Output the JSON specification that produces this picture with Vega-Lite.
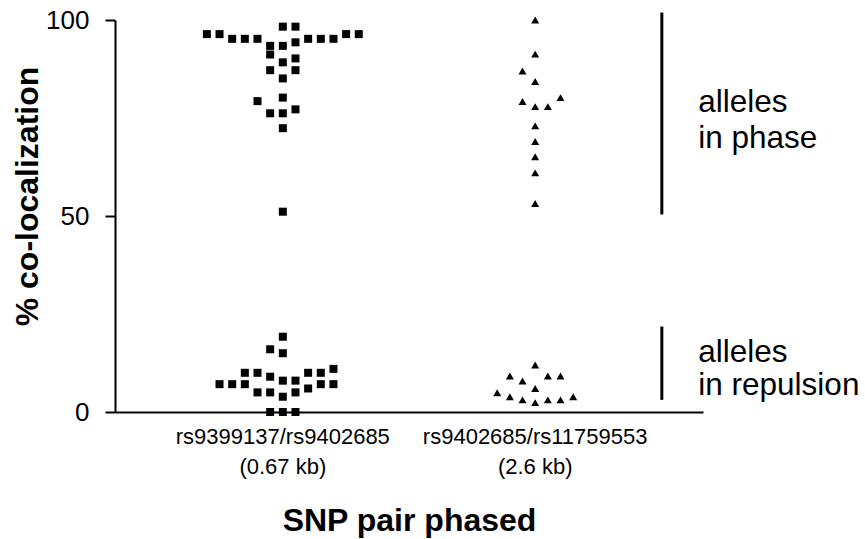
{
  "$schema": "https://vega.github.io/schema/vega-lite/v6.json",
  "width": 588,
  "height": 392,
  "autosize": {"type": "none"},
  "padding": {"left": 115, "top": 20, "right": 162, "bottom": 127},
  "background": "white",
  "config": {"view": {"stroke": null}, "font": "Liberation Sans", "axis": {"grid": false}},
  "datasets": {
    "points": [
      {"pair": "rs9399137/rs9402685 (0.67 kb)", "col": -6, "pct": 96.4},
      {"pair": "rs9399137/rs9402685 (0.67 kb)", "col": -5, "pct": 96.4},
      {"pair": "rs9399137/rs9402685 (0.67 kb)", "col": -5, "pct": 7.1},
      {"pair": "rs9399137/rs9402685 (0.67 kb)", "col": -4, "pct": 95.2},
      {"pair": "rs9399137/rs9402685 (0.67 kb)", "col": -4, "pct": 7.1},
      {"pair": "rs9399137/rs9402685 (0.67 kb)", "col": -3, "pct": 95.2},
      {"pair": "rs9399137/rs9402685 (0.67 kb)", "col": -3, "pct": 10.0},
      {"pair": "rs9399137/rs9402685 (0.67 kb)", "col": -3, "pct": 7.1},
      {"pair": "rs9399137/rs9402685 (0.67 kb)", "col": -2, "pct": 95.2},
      {"pair": "rs9399137/rs9402685 (0.67 kb)", "col": -2, "pct": 79.3},
      {"pair": "rs9399137/rs9402685 (0.67 kb)", "col": -2, "pct": 10.0},
      {"pair": "rs9399137/rs9402685 (0.67 kb)", "col": -2, "pct": 5.0},
      {"pair": "rs9399137/rs9402685 (0.67 kb)", "col": -1, "pct": 93.4},
      {"pair": "rs9399137/rs9402685 (0.67 kb)", "col": -1, "pct": 91.2},
      {"pair": "rs9399137/rs9402685 (0.67 kb)", "col": -1, "pct": 87.2},
      {"pair": "rs9399137/rs9402685 (0.67 kb)", "col": -1, "pct": 76.2},
      {"pair": "rs9399137/rs9402685 (0.67 kb)", "col": -1, "pct": 16.0},
      {"pair": "rs9399137/rs9402685 (0.67 kb)", "col": -1, "pct": 9.0},
      {"pair": "rs9399137/rs9402685 (0.67 kb)", "col": -1, "pct": 5.0},
      {"pair": "rs9399137/rs9402685 (0.67 kb)", "col": -1, "pct": 0},
      {"pair": "rs9399137/rs9402685 (0.67 kb)", "col": 0, "pct": 98.3},
      {"pair": "rs9399137/rs9402685 (0.67 kb)", "col": 0, "pct": 93.4},
      {"pair": "rs9399137/rs9402685 (0.67 kb)", "col": 0, "pct": 89.2},
      {"pair": "rs9399137/rs9402685 (0.67 kb)", "col": 0, "pct": 85.1},
      {"pair": "rs9399137/rs9402685 (0.67 kb)", "col": 0, "pct": 80.2},
      {"pair": "rs9399137/rs9402685 (0.67 kb)", "col": 0, "pct": 76.2},
      {"pair": "rs9399137/rs9402685 (0.67 kb)", "col": 0, "pct": 72.4},
      {"pair": "rs9399137/rs9402685 (0.67 kb)", "col": 0, "pct": 51.1},
      {"pair": "rs9399137/rs9402685 (0.67 kb)", "col": 0, "pct": 19.2},
      {"pair": "rs9399137/rs9402685 (0.67 kb)", "col": 0, "pct": 15.0},
      {"pair": "rs9399137/rs9402685 (0.67 kb)", "col": 0, "pct": 8.0},
      {"pair": "rs9399137/rs9402685 (0.67 kb)", "col": 0, "pct": 3.9},
      {"pair": "rs9399137/rs9402685 (0.67 kb)", "col": 0, "pct": 0},
      {"pair": "rs9399137/rs9402685 (0.67 kb)", "col": 1, "pct": 98.3},
      {"pair": "rs9399137/rs9402685 (0.67 kb)", "col": 1, "pct": 94.3},
      {"pair": "rs9399137/rs9402685 (0.67 kb)", "col": 1, "pct": 90.2},
      {"pair": "rs9399137/rs9402685 (0.67 kb)", "col": 1, "pct": 87.2},
      {"pair": "rs9399137/rs9402685 (0.67 kb)", "col": 1, "pct": 77.2},
      {"pair": "rs9399137/rs9402685 (0.67 kb)", "col": 1, "pct": 8.0},
      {"pair": "rs9399137/rs9402685 (0.67 kb)", "col": 1, "pct": 5.0},
      {"pair": "rs9399137/rs9402685 (0.67 kb)", "col": 1, "pct": 0},
      {"pair": "rs9399137/rs9402685 (0.67 kb)", "col": 2, "pct": 95.2},
      {"pair": "rs9399137/rs9402685 (0.67 kb)", "col": 2, "pct": 10.0},
      {"pair": "rs9399137/rs9402685 (0.67 kb)", "col": 2, "pct": 6.0},
      {"pair": "rs9399137/rs9402685 (0.67 kb)", "col": 3, "pct": 95.2},
      {"pair": "rs9399137/rs9402685 (0.67 kb)", "col": 3, "pct": 10.0},
      {"pair": "rs9399137/rs9402685 (0.67 kb)", "col": 3, "pct": 7.1},
      {"pair": "rs9399137/rs9402685 (0.67 kb)", "col": 4, "pct": 95.2},
      {"pair": "rs9399137/rs9402685 (0.67 kb)", "col": 4, "pct": 11.0},
      {"pair": "rs9399137/rs9402685 (0.67 kb)", "col": 4, "pct": 7.1},
      {"pair": "rs9399137/rs9402685 (0.67 kb)", "col": 5, "pct": 96.4},
      {"pair": "rs9399137/rs9402685 (0.67 kb)", "col": 6, "pct": 96.4},
      {"pair": "rs9402685/rs11759553 (2.6 kb)", "col": -3, "pct": 4.9},
      {"pair": "rs9402685/rs11759553 (2.6 kb)", "col": -2, "pct": 9.2},
      {"pair": "rs9402685/rs11759553 (2.6 kb)", "col": -2, "pct": 3.9},
      {"pair": "rs9402685/rs11759553 (2.6 kb)", "col": -1, "pct": 87.0},
      {"pair": "rs9402685/rs11759553 (2.6 kb)", "col": -1, "pct": 79.2},
      {"pair": "rs9402685/rs11759553 (2.6 kb)", "col": -1, "pct": 7.9},
      {"pair": "rs9402685/rs11759553 (2.6 kb)", "col": -1, "pct": 3.1},
      {"pair": "rs9402685/rs11759553 (2.6 kb)", "col": 0, "pct": 100.0},
      {"pair": "rs9402685/rs11759553 (2.6 kb)", "col": 0, "pct": 91.3},
      {"pair": "rs9402685/rs11759553 (2.6 kb)", "col": 0, "pct": 84.3},
      {"pair": "rs9402685/rs11759553 (2.6 kb)", "col": 0, "pct": 77.9},
      {"pair": "rs9402685/rs11759553 (2.6 kb)", "col": 0, "pct": 73.0},
      {"pair": "rs9402685/rs11759553 (2.6 kb)", "col": 0, "pct": 69.0},
      {"pair": "rs9402685/rs11759553 (2.6 kb)", "col": 0, "pct": 65.1},
      {"pair": "rs9402685/rs11759553 (2.6 kb)", "col": 0, "pct": 61.0},
      {"pair": "rs9402685/rs11759553 (2.6 kb)", "col": 0, "pct": 53.2},
      {"pair": "rs9402685/rs11759553 (2.6 kb)", "col": 0, "pct": 12.0},
      {"pair": "rs9402685/rs11759553 (2.6 kb)", "col": 0, "pct": 6.0},
      {"pair": "rs9402685/rs11759553 (2.6 kb)", "col": 0, "pct": 2.4},
      {"pair": "rs9402685/rs11759553 (2.6 kb)", "col": 1, "pct": 77.9},
      {"pair": "rs9402685/rs11759553 (2.6 kb)", "col": 1, "pct": 9.2},
      {"pair": "rs9402685/rs11759553 (2.6 kb)", "col": 1, "pct": 3.1},
      {"pair": "rs9402685/rs11759553 (2.6 kb)", "col": 2, "pct": 80.2},
      {"pair": "rs9402685/rs11759553 (2.6 kb)", "col": 2, "pct": 9.2},
      {"pair": "rs9402685/rs11759553 (2.6 kb)", "col": 2, "pct": 3.1},
      {"pair": "rs9402685/rs11759553 (2.6 kb)", "col": 3, "pct": 3.9}
    ],
    "brackets": [
      {"group": "alleles in phase", "top": 101.9, "bottom": 50.4},
      {"group": "alleles in repulsion", "top": 21.8, "bottom": 3.1}
    ],
    "labels": [
      {"text": "alleles", "pct": 76.6},
      {"text": "in phase", "pct": 67.3},
      {"text": "alleles", "pct": 12.8},
      {"text": "in repulsion", "pct": 4.3}
    ]
  },
  "layer": [
    {
      "data": {"name": "points"},
      "mark": {"type": "point", "filled": true, "opacity": 1, "color": "black", "size": 64, "clip": false},
      "encoding": {
        "x": {
          "field": "pair",
          "type": "nominal",
          "scale": {"paddingInner": 0.398, "paddingOuter": 0.364},
          "axis": {
            "title": "SNP pair phased",
            "titleFont": "Liberation Sans",
            "titleFontSize": 32,
            "titleFontWeight": "bold",
            "titleColor": "black",
            "titleBaseline": "alphabetic",
            "titleY": 118,
            "labelFontSize": 22,
            "labelColor": "black",
            "labelAngle": 0,
            "labelPadding": 14,
            "labelLineHeight": 30,
            "labelLimit": 400,
            "labelExpr": "[slice(datum.label, 0, indexof(datum.label, ' (')), slice(datum.label, indexof(datum.label, ' (') + 1)]",
            "ticks": false,
            "domainColor": "black",
            "domainWidth": 2
          }
        },
        "xOffset": {
          "field": "col",
          "type": "ordinal",
          "scale": {"domain": [-6, -5, -4, -3, -2, -1, 0, 1, 2, 3, 4, 5, 6], "paddingInner": 0, "paddingOuter": 0}
        },
        "y": {
          "field": "pct",
          "type": "quantitative",
          "scale": {"domain": [0, 100], "nice": false},
          "axis": {
            "title": "% co-localization",
            "titleFontSize": 32,
            "titleFontWeight": "bold",
            "titleColor": "black",
            "titleBaseline": "alphabetic",
            "titleX": -78,
            "titleY": 176,
            "values": [0, 50, 100],
            "labelFontSize": 26,
            "labelColor": "black",
            "labelPadding": 16,
            "tickSize": 10,
            "tickWidth": 2,
            "tickColor": "black",
            "domainColor": "black",
            "domainWidth": 2
          }
        },
        "shape": {
          "field": "pair",
          "type": "nominal",
          "scale": {"range": ["square", "triangle-up"]},
          "legend": null
        }
      }
    },
    {
      "data": {"name": "brackets"},
      "mark": {"type": "rule", "color": "black", "strokeWidth": 3, "clip": false},
      "encoding": {
        "x": {"datum": 0.93, "type": "quantitative", "scale": {"domain": [0, 1]}, "axis": null},
        "y": {"field": "top", "type": "quantitative"},
        "y2": {"field": "bottom"}
      }
    },
    {
      "data": {"name": "labels"},
      "mark": {"type": "text", "align": "left", "baseline": "alphabetic", "fontSize": 31.5, "color": "black", "font": "Liberation Sans"},
      "encoding": {
        "x": {"datum": 0.992, "type": "quantitative", "scale": {"domain": [0, 1]}, "axis": null},
        "y": {"field": "pct", "type": "quantitative"},
        "text": {"field": "text"}
      }
    }
  ],
  "resolve": {"scale": {"x": "independent"}}
}
